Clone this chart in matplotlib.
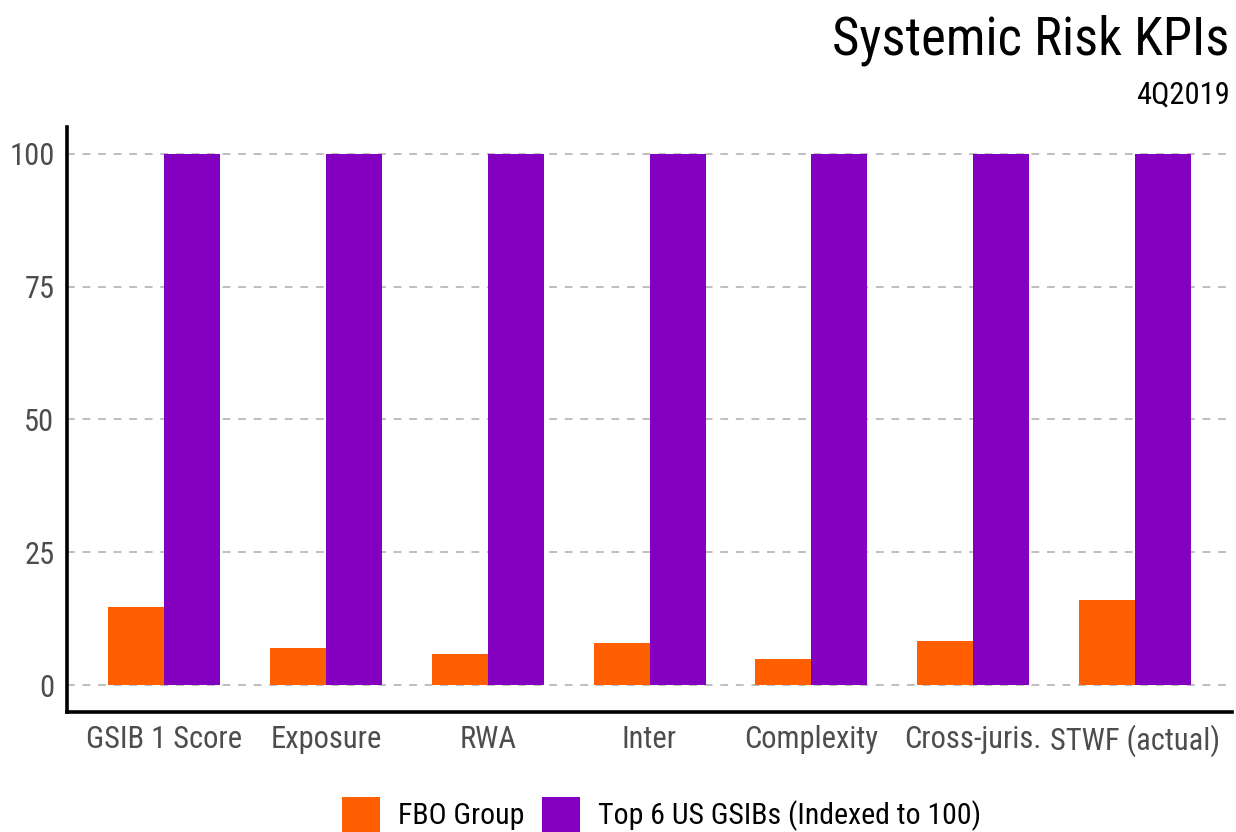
import matplotlib.pyplot as plt
import numpy as np
from matplotlib.patches import Patch

categories = ['GSIB 1 Score', 'Exposure', 'RWA', 'Inter', 'Complexity',
              'Cross-juris.', 'STWF (actual)']
fbo_group = [14.7, 7.1, 6.0, 7.9, 4.9, 8.3, 16.0]
top6_gsibs = [100, 100, 100, 100, 100, 100, 100]
yticks = [0, 25, 50, 75, 100]

ORANGE = '#ff5f00'
PURPLE = '#8300c1'

plt.rcParams['font.family'] = ['Roboto Condensed', 'Liberation Sans Narrow', 'Roboto', 'DejaVu Sans']

fig = plt.figure(figsize=(12.36, 8.32), dpi=100)
ax = fig.add_axes([0.0542, 0.1442, 0.9426, 0.7032])

x = np.arange(len(categories))
w = 0.346
ax.bar(x - w / 2, fbo_group, width=w, color=ORANGE, zorder=3)
ax.bar(x + w / 2, top6_gsibs, width=w, color=PURPLE, zorder=3)

ax.set_xlim(-0.6, len(categories) - 0.4)
ax.set_ylim(-5, 105)
ax.set_yticks(yticks)
ax.set_xticks(x)
ax.set_xticklabels(categories)

for y in yticks:
	ax.axhline(y, color='#bebebe', lw=1.4, ls=(0, (4, 4)), zorder=1)

ax.tick_params(length=0, labelsize=22, labelcolor='#4d4d4d', pad=9)
ax.tick_params(axis='x', pad=9)
for side in ['top', 'right']:
	ax.spines[side].set_visible(False)
for side in ['left', 'bottom']:
	ax.spines[side].set_linewidth(2.6)
	ax.spines[side].set_color('black')

fig.text(0.995, 0.982, 'Systemic Risk KPIs', ha='right', va='top', fontsize=38)
fig.text(0.995, 0.903, '4Q2019', ha='right', va='top', fontsize=22)

handles = [Patch(facecolor=ORANGE, label='FBO Group'),
           Patch(facecolor=PURPLE, label='Top 6 US GSIBs (Indexed to 100)')]
fig.legend(handles=handles, loc='center', bbox_to_anchor=(0.535, 0.021), ncol=2,
           frameon=False, fontsize=21.5, handlelength=1.27, handleheight=1.4,
           handletextpad=0.6, columnspacing=0.6)

fig.savefig('out.png', dpi=100)
